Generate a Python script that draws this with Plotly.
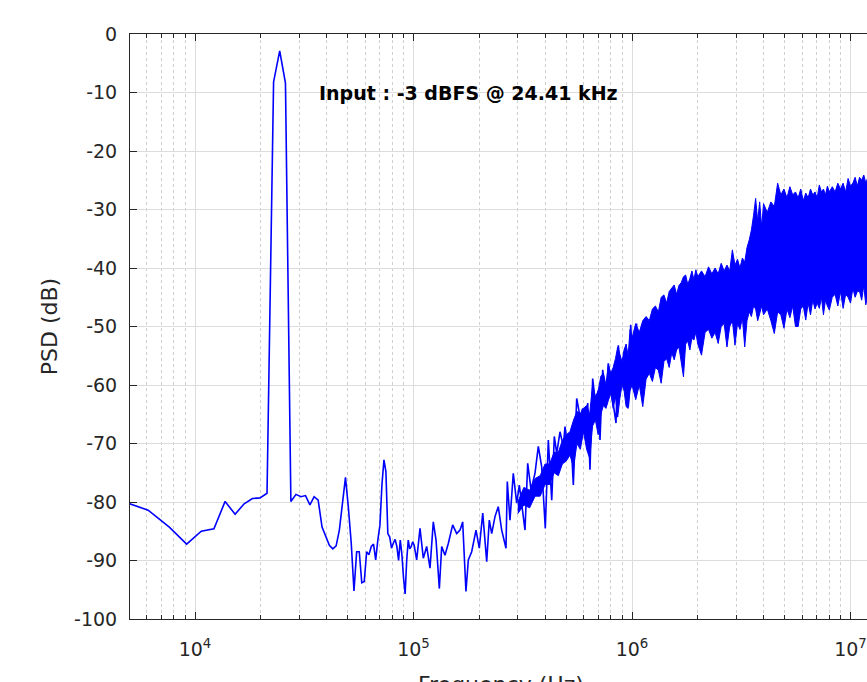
import numpy as np
import plotly.graph_objects as go

# ---------------- data ----------------
# FFT bins below ~100 kHz (Hz) and PSD (dB)
low_freq_hz = [4578, 6104, 7629, 9155, 10681, 12207, 13733, 15259, 16785, 18310,
               19836, 21362, 22888, 24414, 25940, 27466, 28992, 30518, 32043, 33569,
               35095, 36621, 38147, 39673, 41199, 42725, 44250, 45776, 47302, 48828,
               50354, 51880, 53406, 54932, 56458, 57983, 59509, 61035, 62561, 64087,
               65613, 67139, 68665, 70190, 71716, 73242, 74768, 76294, 77820, 79346,
               80872, 82397, 83923, 85449, 86975, 88501, 90027, 91553, 93079, 94604,
               96130, 97656, 99182, 100708]
low_psd_db = [-79.8, -81.4, -84.3, -87.2, -85.0, -84.6, -79.9, -82.1, -80.3, -79.4,
              -79.3, -78.5, -8.2, -2.9, -8.4, -79.9, -78.7, -79.1, -78.9, -80.5,
              -79.1, -79.7, -84.3, -86.0, -87.4, -88.0, -87.5, -84.8, -80.5, -75.8,
              -81.0, -87.0, -95.2, -88.5, -88.5, -93.8, -93.6, -88.5, -89.0, -87.6,
              -87.2, -89.9, -86.5, -84.0, -77.0, -72.8, -74.8, -85.4, -86.0, -87.9,
              -87.0, -86.4, -87.6, -90.0, -86.5, -89.0, -93.0, -95.7, -90.0, -86.5,
              -88.0, -87.6, -86.8, -87.4]

# noise rising region 100 kHz - 1 MHz (kHz, dB)
mid_freq_khz = [103.4, 107.1, 110.9, 114.9, 119.0, 123.2, 126.8, 131.3, 134.6, 139.3,
                144.3, 151.1, 157.6, 163.3, 167.9, 173.8, 178.2, 184.6, 193.2, 200.0,
                207.4, 216.3, 222.3, 228.0, 236.0, 244.3, 253.3, 265.0, 268.7, 276.4,
                286.2, 296.7, 305.0, 323.8, 333.2, 345.0, 359.7, 372.6, 386.1, 401.1,
                414.0, 429.1, 441.0, 452.3, 468.3, 484.9, 493.6, 511.1, 524.2, 538.8,
                558.4, 578.1, 595.0, 615.9, 627.0, 642.3, 660.8, 684.3, 701.1, 713.7,
                734.3, 760.3, 778.9, 807.2, 845.0, 865.7, 897.3, 928.9, 962.0, 986.3,
                1013.7, 1050.7]
mid_psd_db = [-89.9, -84.5, -89.6, -87.6, -91.3, -83.4, -86.5, -94.8, -87.6, -89.1,
              -87.1, -83.9, -85.4, -84.8, -83.4, -95.3, -89.9, -88.5, -84.8, -87.9,
              -81.9, -90.2, -83.1, -85.4, -82.5, -80.8, -84.8, -87.9, -76.5, -83.1,
              -75.1, -80.2, -77.1, -84.8, -73.4, -77.9, -75.1, -70.5, -74.0, -84.5,
              -69.4, -79.7, -68.8, -71.7, -68.0, -70.5, -67.1, -71.4, -68.3, -77.1,
              -62.3, -65.4, -64.0, -66.8, -63.1, -74.5, -58.9, -64.0, -60.9, -69.4,
              -57.4, -62.6, -56.3, -61.4, -66.5, -53.2, -59.1, -53.7, -63.7, -49.7,
              -58.0, -49.5]

# dense noise band: frequency (kHz), upper and lower envelope (dB)
band_freq_khz = [300, 320, 340, 360, 380, 400, 420, 440, 460, 480,
                 500, 520, 540, 560, 580, 600, 620, 640, 660, 680, 700, 720, 740, 760,
                 780, 800, 820, 840, 860, 880, 900, 920, 940, 960, 980, 1000,
                 1040, 1080, 1120, 1160, 1200, 1240, 1280, 1320, 1360, 1400, 1440, 1480,
                 1520, 1560, 1600, 1640, 1680, 1720, 1760, 1800, 1840, 1880, 1920, 1960, 2000,
                 2080, 2160, 2240, 2320, 2400, 2480, 2560, 2640, 2720, 2800, 2880, 2960,
                 3040, 3120, 3200, 3280, 3360, 3440, 3520, 3600, 3680, 3760, 3840, 3920, 4000,
                 4160, 4320, 4480, 4640, 4800, 4960, 5120, 5280, 5440, 5600, 5760, 5920,
                 6080, 6240, 6400, 6560, 6720, 6880, 7040, 7200, 7360, 7520, 7680, 7840, 8000,
                 8250, 8500, 8750, 9000, 9250, 9500, 9750, 10000, 10250, 10500, 10750,
                 11000, 11250, 11500, 11750, 12000]
band_upper_db = [-80, -77.5, -78, -76, -75.5, -73.5, -73.5, -71.5, -71.5, -69.5,
                 -68.5, -68, -66, -64.5, -65, -64, -63.5, -65, -60, -62, -61, -58.5, -58, -60,
                 -56.5, -58, -57, -55.5, -53.5, -55, -56, -54, -53, -55, -50.5, -52,
                 -49.5, -51, -49, -48.3, -49, -47, -46.5, -47.5, -45, -44.6, -46, -44,
                 -43.5, -42.9, -44.5, -43, -42.5, -41.5, -41.2, -42.8, -41.8, -40.5, -42, -40.3, -41.5,
                 -40.5, -41.5, -39.8, -41, -40, -41, -39.2, -40.5, -39.5, -40.5, -36.9, -39.5,
                 -38.5, -40, -38.3, -39, -36.5, -35.2, -33.5, -31, -28.1, -32, -28.7, -33, -29,
                 -30.5, -28.7, -29.5, -25.5, -27.5, -26.5, -28, -26.1, -27.5, -27, -28, -26.5,
                 -28.5, -27.2, -28, -26.5, -27.5, -27, -28, -25.8, -27, -26.5, -27.5, -26, -27,
                 -26.1, -27, -25.5, -26.5, -25.5, -27, -24.7, -26, -25.5, -24.5, -26,
                 -24.5, -25, -24.1, -25.5, -24.5]
band_lower_db = [-82, -80.5, -81, -79, -79, -77, -77, -75, -75.5, -73.5,
                 -73, -72, -74, -70, -71, -68, -71, -72.5, -67, -66, -68.5, -65, -63.5, -64,
                 -62.6, -61.4, -64, -62, -65.5, -62.3, -60, -61, -63.7, -64, -61, -60,
                 -62.5, -60, -63.7, -59, -58, -59.4, -57, -57.5, -59.7, -56, -55.5, -57,
                 -54.5, -55.7, -54, -53.5, -56, -58.6, -53, -52.5, -54, -52, -52.3, -51, -53,
                 -54.9, -51, -50.5, -52, -51, -52.9, -50, -49.5, -53.5, -50, -49, -53.2,
                 -49.5, -50.5, -48.5, -53.5, -49, -47.5, -48.3, -46.5, -47, -49, -47.8, -46.5, -48,
                 -47, -49, -51.2, -47.5, -48, -50.3, -47, -48.5, -46.5, -50, -50, -47,
                 -46.5, -48.9, -46, -48, -45.5, -47, -46, -46.9, -45, -48, -45.5, -46.5, -47.2,
                 -45, -44.5, -46.5, -44, -46.9, -44.5, -45, -46, -43.5, -45, -44,
                 -44, -45.5, -43, -46.3, -44.5]

y_ticks = [0, -10, -20, -30, -40, -50, -60, -70, -80, -90, -100]
y_tick_labels = ["0", "-10", "-20", "-30", "-40", "-50", "-60", "-70", "-80", "-90", "-100"]
x_ticks = [1e4, 1e5, 1e6, 1e7]
x_tick_labels = ["10<sup>4</sup>", "10<sup>5</sup>", "10<sup>6</sup>", "10<sup>7</sup>"]
x_title = "Frequency (Hz)"
y_title = "PSD (dB)"
annotation_text = "Input : -3 dBFS @ 24.41 kHz"
annotation_freq_hz = 36000
annotation_db = -10

# ---------------- figure ----------------
BLUE = "rgb(0,0,255)"
AX = "#262626"
FONT = "DejaVu Sans"

line_x = low_freq_hz + [f * 1000 for f in mid_freq_khz]
line_y = low_psd_db + mid_psd_db

band_x = [f * 1000 for f in band_freq_khz]
poly_x = band_x + band_x[::-1]
poly_y = band_upper_db + band_lower_db[::-1]

fig = go.Figure()
fig.add_trace(go.Scatter(x=poly_x, y=poly_y, mode="lines", fill="toself",
                         fillcolor=BLUE, line=dict(color=BLUE, width=1),
                         showlegend=False, hoverinfo="skip"))
fig.add_trace(go.Scatter(x=line_x, y=line_y, mode="lines",
                         line=dict(color=BLUE, width=1.6), showlegend=False))

minor_vals = [k * 10 ** n for n in range(3, 8) for k in range(2, 10)]

fig.update_layout(
    width=867, height=682,
    margin=dict(l=130, r=0, t=34, b=63),
    paper_bgcolor="white", plot_bgcolor="white",
    font=dict(family=FONT, color=AX),
    showlegend=False,
    xaxis=dict(
        type="log", range=[3.7025, 7.0755], automargin=False,
        tickmode="array", tickvals=x_ticks, ticktext=x_tick_labels,
        ticks="inside", ticklen=7, tickwidth=1, tickcolor=AX,
        showline=True, linecolor=AX, linewidth=1, mirror="ticks",
        showgrid=True, gridcolor="#dcdcdc", gridwidth=1, zeroline=False,
        tickfont=dict(family=FONT, size=19, color=AX),
        ticklabelstandoff=13,
        minor=dict(tickmode="array", tickvals=minor_vals, ticks="inside", ticklen=4,
                   tickcolor=AX, showgrid=True, gridcolor="#cfcfcf", griddash="dot",
                   gridwidth=1),
    ),
    yaxis=dict(
        range=[-100, 0], automargin=False,
        tickmode="array", tickvals=y_ticks, ticktext=y_tick_labels,
        ticks="inside", ticklen=7, tickwidth=1, tickcolor=AX,
        showline=True, linecolor=AX, linewidth=1, mirror=False,
        showgrid=True, gridcolor="#dcdcdc", gridwidth=1, zeroline=False,
        tickfont=dict(family=FONT, size=19, color=AX),
        ticklabelstandoff=8,
        title=dict(text=y_title, font=dict(family=FONT, size=22, color=AX),
                   standoff=10),
    ),
    annotations=[
        dict(x=np.log10(annotation_freq_hz), y=annotation_db, xref="x", yref="y",
             text="<b>" + annotation_text + "</b>", showarrow=False,
             xanchor="left", yanchor="middle",
             font=dict(family=FONT, size=19, color="black")),
        # x-axis title, placed low so that it is cut by the figure edge as in the reference
        dict(x=0.503, y=-0.0872, xref="paper", yref="paper", text=x_title,
             showarrow=False, xanchor="center", yanchor="top",
             font=dict(family=FONT, size=22, color=AX)),
    ],
)

fig.write_html("out.html", config={"displayModeBar": False},
               post_script="document.body.style.margin='0px';")
